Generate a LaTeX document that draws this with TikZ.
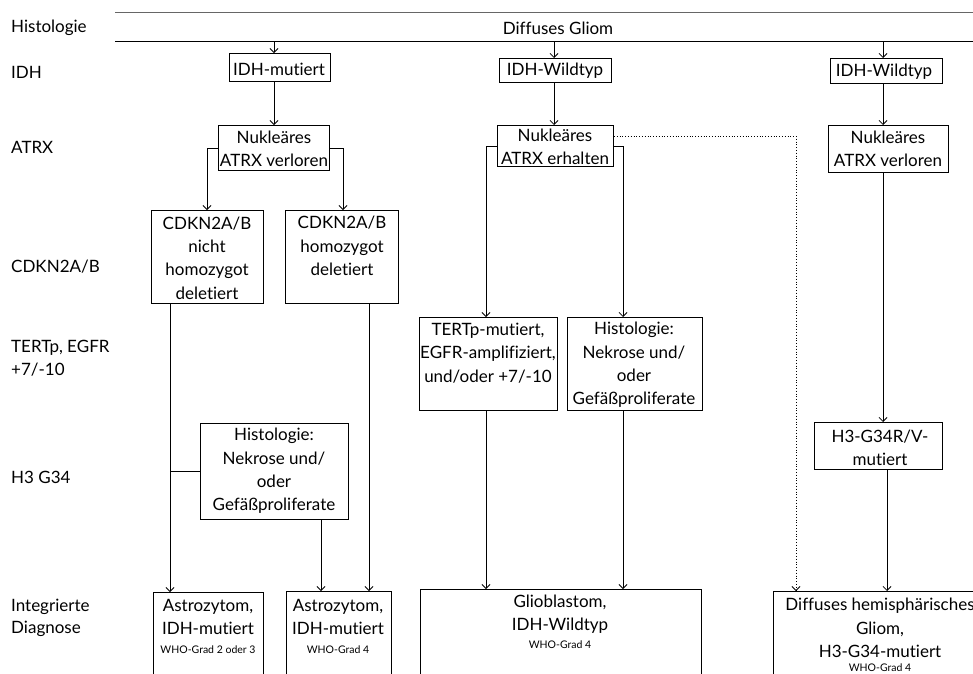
\documentclass[tikz,border=0pt]{standalone}
\usepackage{fontspec}
\setmainfont[Ligatures={NoCommon}]{Lato}
\usetikzlibrary{arrows.meta}
\begin{document}
\begin{tikzpicture}[x=1pt,y=-1pt,
  box/.style={draw, line width=0.9pt, inner sep=0, anchor=north west},
  txt/.style={font=\fontsize{17}{23.3}\selectfont, align=center, inner sep=0},
  small/.style={font=\fontsize{10.5}{12}\selectfont, inner sep=0},
  lab/.style={font=\fontsize{17}{22.5}\selectfont, align=left, anchor=west, inner sep=0},
  conn/.style={line width=0.8pt},
  arr/.style={conn, -{Straight Barb[length=4pt,width=8pt]}},
  dotarr/.style={arr, dotted}
]
\useasboundingbox (0,0) rectangle (973,673);
\clip (0,0) rectangle (973,673);

% top band
\coordinate (tl1) at (115,12); \coordinate (tr1) at (973,12);
\coordinate (tl2) at (115,41); \coordinate (tr2) at (973,41);
\draw[line width=1pt, black!60] (tl1) -- (tr1);
\draw[line width=1pt] (tl2) -- (tr2);
\node[txt] (dg) at (558,28) {Diffuses Gliom};

% row labels
\node[lab] (l1) at (11,28) {Histologie};
\node[lab] (l2) at (11,72) {IDH};
\node[lab] (l3) at (11,147) {ATRX};
\node[lab] (l4) at (11,267) {CDKN2A/B};
\node[lab] (l5) at (11,358) {TERTp, EGFR\\+7/-10};
\node[lab] (l6) at (11,477) {H3 G34};
\node[lab] (l7) at (11,618) {Integrierte\\Diagnose};

% boxes
\node[box, minimum width=101pt, minimum height=28pt] (idhm) at (229,53) {};
\node[box, minimum width=111pt, minimum height=45pt] (atrxl) at (218,125) {};
\node[box, minimum width=112pt, minimum height=93pt] (cdkn1) at (151,210) {};
\node[box, minimum width=113pt, minimum height=93pt] (cdkn2) at (285,210) {};
\node[box, minimum width=112pt, minimum height=24pt] (idhw1) at (499,58) {};
\node[box, minimum width=116pt, minimum height=41pt] (atrxe) at (497,125) {};
\node[box, minimum width=138pt, minimum height=93pt] (tert) at (419,317) {};
\node[box, minimum width=135pt, minimum height=93pt] (hist2) at (567,317) {};
\node[box, minimum width=112pt, minimum height=25pt] (idhw2) at (830,58) {};
\node[box, minimum width=120pt, minimum height=47pt] (atrxr) at (828,125) {};
\node[box, minimum width=128pt, minimum height=47pt] (h3) at (814,422) {};
\node[box, minimum width=148pt, minimum height=96pt] (hist1) at (200,423) {};
\node[box, minimum width=110pt, minimum height=110pt] (astro1) at (153,592) {};
\node[box, minimum width=105pt, minimum height=110pt] (astro2) at (286,591) {};
\node[box, minimum width=281pt, minimum height=110pt] (glio) at (420,589) {};
\node[box, minimum width=220pt, minimum height=110pt] (diff) at (773,591) {};

% box texts
\node[txt] (t-idhm) at (279,69) {IDH-mutiert};
\node[txt] (t-atrxl) at (274,149) {Nukleäres\\ATRX verloren};
\node[txt] (t-cdkn1) at (207,258) {CDKN2A/B\\nicht\\homozygot\\deletiert};
\node[txt] (t-cdkn2) at (342,246) {CDKN2A/B\\homozygot\\deletiert};
\node[txt] (t-idhw1) at (555,71) {IDH-Wildtyp};
\node[txt] (t-atrxe) at (555,147) {Nukleäres\\ATRX erhalten};
\node[txt] (t-tert) at (488,353) {TERTp-mutiert,\\EGFR-amplifiziert,\\und/oder +7/-10};
\node[txt] (t-hist2) at (634,365) {Histologie:\\Nekrose und/\\oder\\Gefäßproliferate};
\node[txt] (t-idhw2) at (884,72) {IDH-Wildtyp};
\node[txt] (t-atrxr) at (888,149) {Nukleäres\\ATRX verloren};
\node[txt] (t-h3) at (880,448) {H3-G34R/V-\\mutiert};
\node[txt] (t-hist1) at (274,471) {Histologie:\\Nekrose und/\\oder\\Gefäßproliferate};
\node[txt] (t-astro1) at (208,617) {Astrozytom,\\IDH-mutiert};
\node[small] (w-astro1) at (208,650) {WHO-Grad 2 oder 3};
\node[txt] (t-astro2) at (338,617) {Astrozytom,\\IDH-mutiert};
\node[small] (w-astro2) at (338,650) {WHO-Grad 4};
\node[txt] (t-glio) at (560,614) {Glioblastom,\\IDH-Wildtyp};
\node[small] (w-glio) at (560,645) {WHO-Grad 4};
\node[txt] (t-diff) at (880,628) {Diffuses hemisphärisches\\Gliom,\\H3-G34-mutiert};
\node[small] (w-diff) at (880,668) {WHO-Grad 4};

% connectors
\coordinate (s1) at (274,41);
\coordinate (s2) at (554,41);
\coordinate (s3) at (883,41);
\draw[arr] (s1) -- (s1 |- idhm.north);
\draw[arr] (s2) -- (s2 |- idhw1.north);
\draw[arr] (s3) -- (s3 |- idhw2.north);
\draw[arr] (idhm.south -| s1) -- (atrxl.north -| s1);
\draw[arr] (idhw1.south -| s2) -- (atrxe.north -| s2);
\draw[arr] (idhw2.south -| s3) -- (atrxr.north -| s3);

% left column branches
\coordinate (b1) at (207,148);
\coordinate (b2) at (343,148);
\draw[arr] (b1 -| atrxl.west) -- (b1) -- (b1 |- cdkn1.north);
\draw[arr] (b2 -| atrxl.east) -- (b2) -- (b2 |- cdkn2.north);

% middle column branches
\coordinate (b3) at (486,146);
\coordinate (b4) at (623,146);
\coordinate (b5) at (796,136);
\draw[arr] (b3 -| atrxe.west) -- (b3) -- (b3 |- tert.north);
\draw[arr] (b4 -| atrxe.east) -- (b4) -- (b4 |- hist2.north);
\draw[dotarr] (b5 -| atrxe.east) -- (b5) -- (b5 |- diff.north);

% right column
\draw[arr] (atrxr.south -| s3) -- (h3.north -| s3);
\coordinate (v6) at (887,0);
\draw[arr] (h3.south -| v6) -- (diff.north -| v6);

% lower connections
\coordinate (v1) at (170,0);
\coordinate (v2) at (321,0);
\coordinate (v3) at (369,0);
\coordinate (v4) at (486,0);
\coordinate (v5) at (623,0);
\coordinate (j1) at (170,471);
\draw[arr] (cdkn1.south -| v1) -- (astro1.north -| v1);
\draw[conn] (j1) -- (j1 -| hist1.west);
\draw[arr] (hist1.south -| v2) -- (astro2.north -| v2);
\draw[arr] (cdkn2.south -| v3) -- (astro2.north -| v3);
\draw[arr] (tert.south -| v4) -- (glio.north -| v4);
\draw[arr] (hist2.south -| v5) -- (glio.north -| v5);
\end{tikzpicture}
\end{document}
